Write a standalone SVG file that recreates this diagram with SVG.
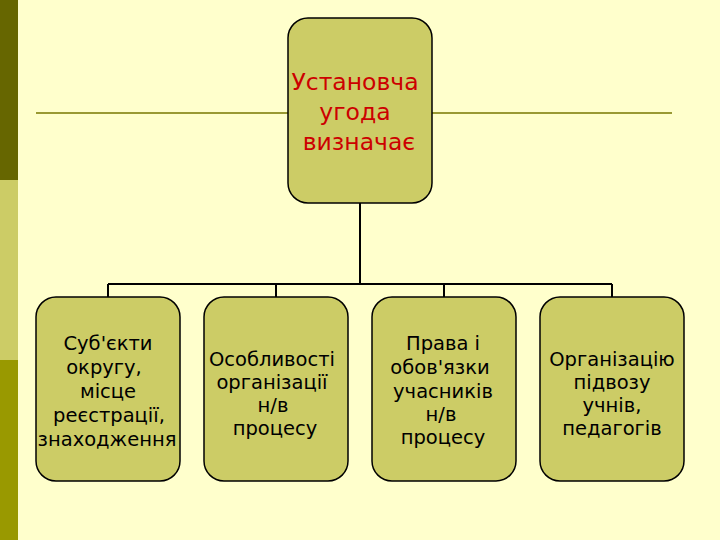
<svg xmlns="http://www.w3.org/2000/svg" width="720" height="540" viewBox="0 0 720 540">
<style>
.box{fill:#CCCC66;stroke:#000;stroke-width:1.5}
.t{font-family:"DejaVu Sans",Verdana,sans-serif;font-size:19.5px;fill:#000;text-anchor:middle}
.tr{font-family:"DejaVu Sans",Verdana,sans-serif;font-size:23.5px;fill:#CC0000;text-anchor:middle}
.c{stroke:#000;stroke-width:2;fill:none}
</style>
<rect x="0" y="0" width="720" height="540" fill="#FFFFCC"/>
<rect x="0" y="0" width="18" height="180" fill="#666600"/>
<rect x="0" y="180" width="18" height="180" fill="#CCCC66"/>
<rect x="0" y="360" width="18" height="180" fill="#999900"/>
<line x1="36" y1="113" x2="672" y2="113" stroke="#999933" stroke-width="2"/>
<g id="connectors">
<path class="c" d="M360 203V284M108 284H612M108 284V297M276 284V297M444 284V297M612 284V297"/>
</g>
<g id="root">
<rect class="box" x="288" y="18" width="144" height="185" rx="20"/>
<text class="tr" x="355" y="90">Установча</text>
<text class="tr" x="355" y="120">угода</text>
<text class="tr" x="359" y="150">визначає</text>
</g>
<g id="n1">
<rect class="box" x="36" y="297" width="144" height="184" rx="20"/>
<text class="t" x="108" y="350">Суб'єкти</text>
<text class="t" x="104" y="374">округу,</text>
<text class="t" x="108" y="398">місце</text>
<text class="t" x="109" y="422">реєстрації,</text>
<text class="t" x="107" y="446">знаходження</text>
</g>
<g id="n2">
<rect class="box" x="204" y="297" width="144" height="184" rx="20"/>
<text class="t" x="272" y="366">Особливості</text>
<text class="t" x="272" y="389">організації</text>
<text class="t" x="273" y="412">н/в</text>
<text class="t" x="275" y="435">процесу</text>
</g>
<g id="n3">
<rect class="box" x="372" y="297" width="144" height="184" rx="20"/>
<text class="t" x="443" y="350">Права і</text>
<text class="t" x="440" y="374">обов'язки</text>
<text class="t" x="443" y="398">учасників</text>
<text class="t" x="441" y="421">н/в</text>
<text class="t" x="443" y="444">процесу</text>
</g>
<g id="n4">
<rect class="box" x="540" y="297" width="144" height="184" rx="20"/>
<text class="t" x="612" y="366">Організацію</text>
<text class="t" x="612" y="389">підвозу</text>
<text class="t" x="612" y="412">учнів,</text>
<text class="t" x="612" y="435">педагогів</text>
</g>
</svg>
